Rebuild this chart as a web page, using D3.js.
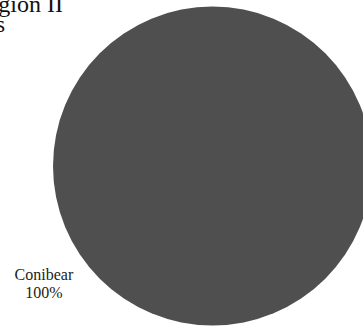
<!DOCTYPE html>
<html><head><meta charset="utf-8">
<script src="https://cdn.jsdelivr.net/npm/d3@7"></script>
<style>html,body{margin:0;padding:0;background:#fff;overflow:hidden}</style>
</head><body>
<svg id="chart" width="363" height="329"></svg>
<script>
const categories = ["Conibear"];
const values = [100];
const titleLines = ["Region II", "Traps"];
const colors = ["#4f4f4f"];

const svg = d3.select("#chart");
const cx = 212.5, cy = 166, r = 159.5;
const data = categories.map((c, i) => ({cat: c, val: values[i]}));
const pie = d3.pie().value(d => d.val).sort(null);
const arc = d3.arc().innerRadius(0).outerRadius(r);
const g = svg.append("g").attr("transform", `translate(${cx},${cy})`);
const arcs = pie(data);
g.selectAll("path").data(arcs).enter().append("path")
  .attr("d", arc).attr("fill", (d, i) => colors[i]);

const total = d3.sum(values);
const fmt = v => Math.round(v / total * 100) + "%";
// label placed outside at lower-left
const labelAngle = -2.19; // radians from 12 o'clock (clockwise)
const labelR = 207;
const lx = labelR * Math.sin(labelAngle), ly = -labelR * Math.cos(labelAngle);
const lab = g.selectAll("text.lab").data(arcs).enter().append("text")
  .attr("class", "lab")
  .attr("text-anchor", "middle")
  .attr("font-family", "'Liberation Serif', serif")
  .attr("font-size", 16)
  .attr("fill", "#222");
lab.append("tspan").attr("x", lx).attr("y", ly - 6).text(d => d.data.cat);
lab.append("tspan").attr("x", lx).attr("y", ly + 12).text(d => fmt(d.data.val));

const t = svg.append("text").attr("text-anchor", "end")
  .attr("font-family", "'Liberation Serif', serif").attr("font-size", 24).attr("fill", "#111");
t.append("tspan").attr("x", 63).attr("y", 12).text(titleLines[0]);
t.append("tspan").attr("x", 5).attr("y", 32).text(titleLines[1]);
</script>
</body></html>
